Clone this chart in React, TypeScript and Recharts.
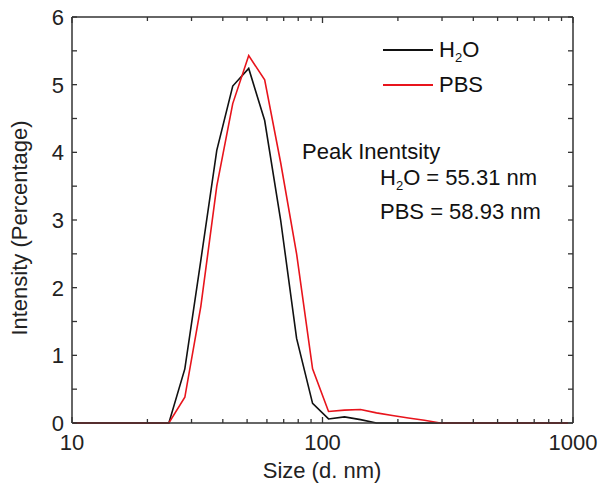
import { LineChart, Line, XAxis, YAxis, Label } from "recharts";

// DLS size bins (nm)
const sizes = [
  10.1, 11.7, 13.54, 15.69, 18.17, 21.04, 24.36, 28.21, 32.67, 37.84, 43.82,
  50.75, 58.77, 68.06, 78.82, 91.28, 105.7, 122.4, 141.8, 164.2, 190.1, 220.2,
  255.0, 295.3, 342.0, 396.1, 458.7, 531.2, 615.1, 712.4, 825.0, 955.4,
];

const h2o = [
  0, 0, 0, 0, 0, 0, 0, 0.8, 2.4, 4.03, 4.98, 5.24, 4.47, 3.0, 1.25, 0.29,
  0.06, 0.09, 0.05, 0, 0, 0, 0, 0, 0, 0, 0, 0, 0, 0, 0, 0,
];

const pbs = [
  0, 0, 0, 0, 0, 0, 0, 0.38, 1.72, 3.5, 4.72, 5.43, 5.07, 3.85, 2.5, 0.8,
  0.17, 0.19, 0.2, 0.15, 0.11, 0.075, 0.04, 0, 0, 0, 0, 0, 0, 0, 0, 0,
];

const xTicks = [10, 20, 30, 40, 50, 60, 70, 80, 90, 100, 200, 300, 400, 500, 600, 700, 800, 900, 1000];
const xLabels = [10, 100, 1000];
const yTicks = [0, 0.5, 1, 1.5, 2, 2.5, 3, 3.5, 4, 4.5, 5, 5.5, 6];

const data = sizes.map((s, i) => ({ size: s, h2o: h2o[i], pbs: pbs[i] }));

const FONT = "'Liberation Sans', Arial, sans-serif";
const AXIS = "#333";
const FS = 22;

const BottomTick = (props: any) => {
  const { x, y, payload } = props;
  const major = xLabels.includes(payload.value);
  return (
    <g>
      <line x1={x} x2={x} y1={y} y2={y - (major ? 6 : 4)} stroke={AXIS} strokeWidth={1.3} />
      {major && (
        <text x={x} y={y + 27} textAnchor="middle" fontSize={FS} fill="#222" fontFamily={FONT}>
          {payload.value}
        </text>
      )}
    </g>
  );
};

const TopTick = (props: any) => {
  const { x, y, payload } = props;
  const major = xLabels.includes(payload.value);
  return <line x1={x} x2={x} y1={y} y2={y + (major ? 6 : 4)} stroke={AXIS} strokeWidth={1.3} />;
};

const LeftTick = (props: any) => {
  const { x, y, payload } = props;
  const major = Number.isInteger(payload.value);
  return (
    <g>
      <line x1={x} x2={x + 5} y1={y} y2={y} stroke={AXIS} strokeWidth={1.3} />
      {major && (
        <text x={x - 8} y={y + 8} textAnchor="end" fontSize={FS} fill="#222" fontFamily={FONT}>
          {payload.value}
        </text>
      )}
    </g>
  );
};

const RightTick = (props: any) => {
  const { x, y } = props;
  return <line x1={x} x2={x - 5} y1={y} y2={y} stroke={AXIS} strokeWidth={1.3} />;
};

const txt = { position: "absolute" as const, fontFamily: FONT, fontSize: FS, color: "#111", whiteSpace: "nowrap" as const, lineHeight: "24px" };
const sub = { fontSize: 13, verticalAlign: "-5px", lineHeight: 0 };

export default function App() {
  return (
    <div style={{ position: "absolute", left: 0, top: 0, width: 601, height: 493, background: "#fff" }}>
      <LineChart width={601} height={493} data={data} margin={{ top: 16, right: 27, bottom: 0, left: 0 }}>
        <XAxis
          dataKey="size"
          type="number"
          scale="log"
          domain={[10, 1000]}
          ticks={xTicks}
          interval={0}
          allowDataOverflow
          height={70}
          tickSize={0}
          tickMargin={0}
          tick={<BottomTick />}
          axisLine={{ stroke: AXIS, strokeWidth: 1.5 }}
        >
          <Label
            content={() => (
              <text x={322} y={478} textAnchor="middle" fontSize={FS} fill="#222" fontFamily={FONT}>
                Size (d. nm)
              </text>
            )}
          />
        </XAxis>
        <XAxis
          xAxisId="top"
          dataKey="size"
          orientation="top"
          type="number"
          scale="log"
          domain={[10, 1000]}
          ticks={xTicks}
          interval={0}
          allowDataOverflow
          height={1}
          tickSize={0}
          tickMargin={0}
          tick={<TopTick />}
          axisLine={{ stroke: AXIS, strokeWidth: 1.5 }}
        />
        <YAxis
          type="number"
          domain={[0, 6]}
          ticks={yTicks}
          interval={0}
          width={72}
          tickSize={0}
          tickMargin={0}
          tick={<LeftTick />}
          axisLine={{ stroke: AXIS, strokeWidth: 1.5 }}
        >
          <Label
            content={() => (
              <text x={27} y={228} transform="rotate(-90 27 228)" textAnchor="middle" fontSize={FS} fill="#222" fontFamily={FONT}>
                Intensity (Percentage)
              </text>
            )}
          />
        </YAxis>
        <YAxis
          yAxisId="right"
          orientation="right"
          type="number"
          domain={[0, 6]}
          ticks={yTicks}
          interval={0}
          width={1}
          tickSize={0}
          tickMargin={0}
          tick={<RightTick />}
          axisLine={{ stroke: AXIS, strokeWidth: 1.5 }}
        />
        <Line type="linear" dataKey="h2o" stroke="#111" strokeWidth={1.6} dot={false} isAnimationActive={false} />
        <Line type="linear" dataKey="pbs" stroke="#e8141c" strokeWidth={1.6} dot={false} isAnimationActive={false} />
        {/* hidden series so the mirror axes get drawn */}
        <Line xAxisId="top" yAxisId="right" dataKey="pbs" stroke="none" dot={false} legendType="none" isAnimationActive={false} />
      </LineChart>

      {/* legend */}
      <div style={{ position: "absolute", left: 383, top: 49, width: 50, height: 2, background: "#111" }} />
      <div style={{ ...txt, left: 439, top: 38 }}>
        H<sub style={sub}>2</sub>O
      </div>
      <div style={{ position: "absolute", left: 383, top: 84, width: 50, height: 2, background: "#e8141c" }} />
      <div style={{ ...txt, left: 439, top: 73 }}>PBS</div>

      {/* annotation */}
      <div style={{ ...txt, left: 302, top: 140 }}>Peak Inentsity</div>
      <div style={{ ...txt, left: 380, top: 166 }}>
        H<sub style={sub}>2</sub>O = 55.31 nm
      </div>
      <div style={{ ...txt, left: 380, top: 200 }}>PBS = 58.93 nm</div>
    </div>
  );
}
